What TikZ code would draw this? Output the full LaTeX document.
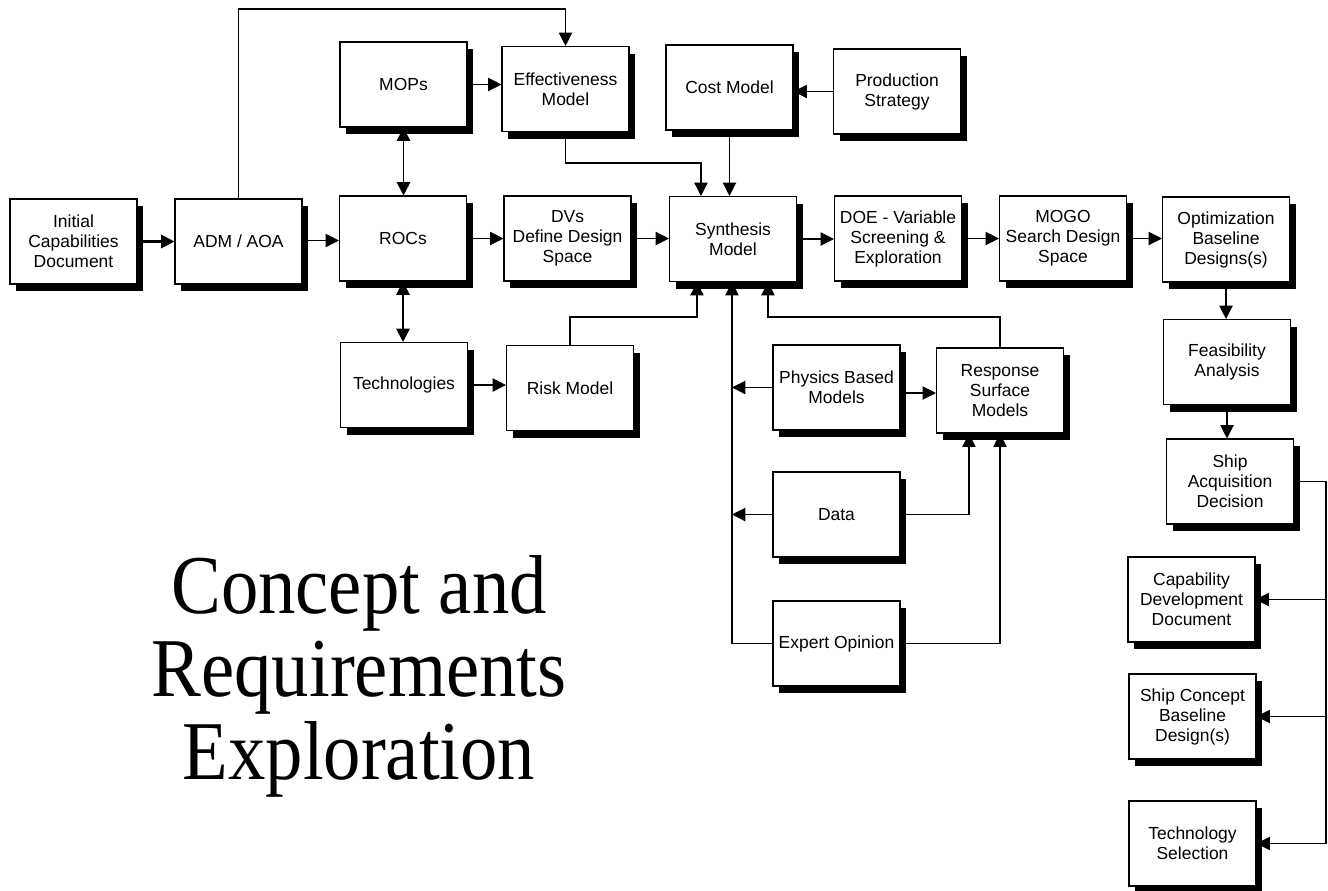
\documentclass[tikz,border=0pt]{standalone}
\usepackage{fontspec}
\setmainfont{Liberation Sans}
\newfontfamily\titlefont{Liberation Serif}
\usetikzlibrary{arrows.meta,shadows,calc}
\tikzset{
  box/.style={draw=black, line width=0.8pt, fill=white, minimum width=95.25pt, minimum height=63.75pt,
    inner sep=1pt, align=center, font=\fontsize{13.1}{15}\selectfont,
    drop shadow={shadow xshift=4.5pt, shadow yshift=-5.5pt, fill=black, opacity=1}},
  tip/.style={},
  conn/.style={line width=0.8pt, -{Triangle[length=10pt,width=10pt]}},
  plain/.style={line width=0.8pt},
  thickconn/.style={line width=1.6pt, -{Triangle[length=10pt,width=10pt]}},
  bothconn/.style={line width=1.3pt, {Triangle[length=10pt,width=10pt]}-{Triangle[length=10pt,width=10pt]}},
  ttl/.style={font=\titlefont\fontsize{56}{62}\selectfont, anchor=base, yscale=1.12, transform shape, inner sep=0pt}
}
\begin{document}
\begin{tikzpicture}[x=0.75pt,y=-0.75pt]
\useasboundingbox[fill=white] (0,0) rectangle (1328,890);

% boxes
\node[box] (icd) at (73.5,241.5) {Initial\\Capabilities\\Document};
\node[box] (adm) at (238.5,241.5) {ADM / AOA};
\node[box] (rocs) at (403,238.5) {ROCs};
\node[box] (mops) at (403.5,84.5) {MOPs};
\node[box] (eff) at (565.5,89) {Effectiveness\\Model};
\node[box] (cost) at (729.5,87.5) {Cost Model};
\node[box] (prod) at (897,91.5) {Production\\Strategy};
\node[box] (dvs) at (567.5,238.5) {DVs\\Define Design\\Space};
\node[box] (synth) at (733,239) {Synthesis\\Model};
\node[box] (doe) at (898,238.5) {DOE - Variable\\Screening \&\\Exploration};
\node[box] (mogo) at (1063,238.5) {MOGO\\Search Design\\Space};
\node[box] (opt) at (1226,239.5) {Optimization\\Baseline\\Designs(s)};
\node[box] (feas) at (1227,362) {Feasibility\\Analysis};
\node[box] (ship) at (1230,481.5) {Ship\\Acquisition\\Decision};
\node[box] (tech) at (404,385) {Technologies};
\node[box] (risk) at (570,388) {Risk Model};
\node[box] (phys) at (836.5,387.5) {Physics Based\\Models};
\node[box] (resp) at (1000,390.5) {Response\\Surface\\Models};
\node[box] (data) at (836.5,514.5) {Data};
\node[box] (expert) at (836.5,643.5) {Expert Opinion};
\node[box] (cdd) at (1191.5,599.5) {Capability\\Development\\Document};
\node[box] (scb) at (1192.5,716.5) {Ship Concept\\Baseline\\Design(s)};
\node[box] (tsel) at (1192.5,843.5) {Technology\\Selection};

% title
\node[ttl] (t1) at (359,613) {Concept and};
\node[ttl] (t2) at (359,696) {Requirements};
\node[ttl] (t3) at (359,779) {Exploration};

% helper coordinates
\coordinate (toprow) at (0,9);
\coordinate (midrow) at (0,163);
\coordinate (lowrow) at (0,317);
\coordinate (s1) at ($(synth.north west)+(32,0)$);
\coordinate (b1) at ($(synth.south west)+(28,0)$);
\coordinate (b2) at ($(synth.south west)+(63,0)$);
\coordinate (b3) at ($(synth.south west)+(99,0)$);
\coordinate (r1) at ($(resp.south west)+(33,0)$);
\coordinate (vx) at (1326,0);
\coordinate (admout) at ($(adm.east)+(0,-1)$);
\coordinate (physout) at ($(phys.east)+(0,5.5)$);

% main row
\draw[thickconn] (icd.east) -- (adm.west);
\draw[conn] (admout) -- (admout -| rocs.west);
\draw[conn] (rocs.east) -- (rocs.east -| dvs.west);
\draw[conn] (dvs.east) -- (dvs.east -| synth.west);
\draw[conn] (synth.east) -- (synth.east -| doe.west);
\draw[conn] (doe.east) -- (doe.east -| mogo.west);
\draw[conn] (mogo.east) -- (mogo.east -| opt.west);

% top
\draw[conn] (adm.north) |- (toprow -| eff.north) -- (eff.north);
\draw[conn] (mops.east) -- (mops.east -| eff.west);
\draw[bothconn] (mops.south) -- (mops.south |- rocs.north);
\draw[conn] (eff.south) |- (midrow -| s1) -- (s1);
\draw[conn] (cost.south) -- (cost.south |- synth.north);
\draw[conn] (prod.west) -- (prod.west -| cost.east);

% right column
\draw[conn] (opt.south) -- (opt.south |- feas.north);
\draw[conn] (feas.south) -- (feas.south |- ship.north);
\draw[conn] (ship.east) -| (vx |- tsel.east) -- (tsel.east);
\draw[conn] (vx |- cdd.east) -- (cdd.east);
\draw[conn] (vx |- scb.east) -- (scb.east);

% lower left
\draw[bothconn, line width=1.6pt] (rocs.south) -- (rocs.south |- tech.north);
\draw[conn] (tech.east) -- (tech.east -| risk.west);
\draw[conn] (risk.north) |- (lowrow -| b1) -- (b1);

% lower middle
\draw[conn] (resp.north) |- (lowrow -| b3) -- (b3);
\draw[conn] (phys.west) -- (phys.west -| b2);
\draw[conn] (data.west) -- (data.west -| b2);
\draw[conn] (expert.west) -| (b2);
\draw[conn] (physout) -- (physout -| resp.west);
\draw[conn] (data.east) -| (r1);
\draw[conn] (expert.east) -| (resp.south);
\end{tikzpicture}
\end{document}
